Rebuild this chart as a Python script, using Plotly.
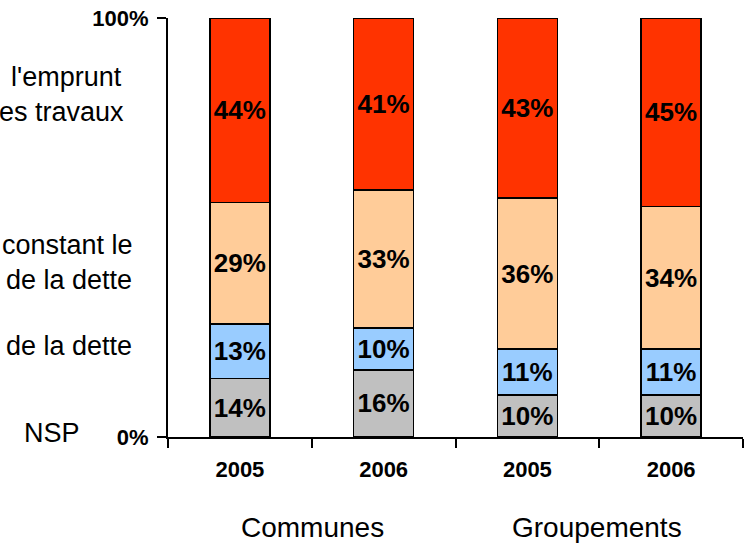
import plotly.graph_objects as go

categories = ["Communes 2005", "Communes 2006", "Groupements 2005", "Groupements 2006"]
years = ["2005", "2006", "2005", "2006"]
groups = ["Communes", "Groupements"]

nsp = [14, 16, 10, 10]
blue_vals = [13, 10, 11, 11]
peach_vals = [29, 33, 36, 34]
red_vals = [44, 41, 43, 45]

series_names = ["NSP", "de la dette", "constant le<br>de la dette", "l'emprunt<br>es travaux"]
series_values = [nsp, blue_vals, peach_vals, red_vals]
series_colors = ["#C0C0C0", "#99CCFF", "#FFCC99", "#FF3300"]

FONT = "Liberation Sans, Arial, sans-serif"

fig = go.Figure()
for name, vals, col in zip(series_names, series_values, series_colors):
    fig.add_trace(go.Bar(
        x=categories, y=vals, name=name,
        marker=dict(color=col, line=dict(color="black", width=1.5)),
        text=[f"<b>{v}%</b>" for v in vals],
        textposition="inside", insidetextanchor="middle", textangle=0,
        textfont=dict(family=FONT, size=26, color="black"),
        showlegend=False,
    ))

W, H = 744, 543
ML, MR, MT, MB = 168, 1, 18, 106
pw = W - ML - MR
ph = H - MT - MB

def px_to_paper_x(px):
    return (px - ML) / pw

def px_to_paper_y(py):
    return (H - MB - py) / ph

# left-side category labels, one line each
label_right = [[82], [134], [135, 134], [124, 126]]
label_line_y = [[433], [346], [245, 280], [77, 112]]
for name, rxs, ys in zip(series_names, label_right, label_line_y):
    for line, rx, cy in zip(name.split("<br>"), rxs, ys):
        fig.add_annotation(
            text=line, xref="paper", yref="paper",
            x=px_to_paper_x(rx), y=px_to_paper_y(cy),
            xanchor="right", yanchor="middle", align="right",
            showarrow=False, font=dict(family=FONT, size=27, color="black"),
        )

# group labels
for g, cx in zip(groups, [312, 597]):
    fig.add_annotation(
        text=g, xref="paper", yref="paper",
        x=px_to_paper_x(cx), y=px_to_paper_y(527),
        xanchor="center", yanchor="middle", showarrow=False,
        font=dict(family=FONT, size=28, color="black"),
    )

fig.update_layout(
    width=W, height=H,
    margin=dict(l=ML, r=MR, t=MT, b=MB, pad=0),
    paper_bgcolor="white", plot_bgcolor="white",
    barmode="stack", bargap=0.583,
    uniformtext=dict(minsize=10, mode="show"),
    font=dict(family=FONT, color="black"),
)
fig.update_xaxes(
    type="category", tickvals=categories, ticktext=[f"<b>{y}</b>" for y in years],
    tickson="boundaries", ticks="outside", ticklen=9, tickwidth=2, tickcolor="black",
    showline=True, linecolor="black", linewidth=2, showgrid=False,
    tickfont=dict(family=FONT, size=22, color="black"),
    ticklabelstandoff=12,
)
fig.update_yaxes(
    range=[0, 100], tickvals=[0, 100], ticktext=["<b>0%</b>", "<b>100%</b>"],
    ticks="outside", ticklen=9, tickwidth=2, tickcolor="black",
    showline=True, linecolor="black", linewidth=2, showgrid=False, zeroline=False,
    tickfont=dict(family=FONT, size=22, color="black"),
    ticklabelstandoff=4,
)

fig.write_html("out.html", config={"displayModeBar": False},
               post_script="document.body.style.margin='0';")
